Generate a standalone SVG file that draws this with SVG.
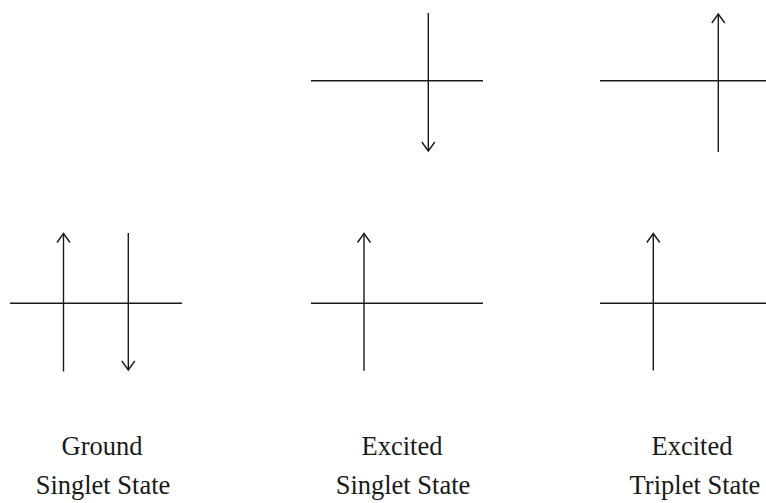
<svg xmlns="http://www.w3.org/2000/svg" width="766" height="503" viewBox="0 0 766 503">
<defs>
<style>
.ln{stroke:#1a1a1a;stroke-width:1.4;fill:none}
.lbl{font-family:"Liberation Serif","Times New Roman",serif;font-size:26.5px;fill:#1a1a1a;text-anchor:middle}
</style>
<marker id="ah" markerUnits="userSpaceOnUse" markerWidth="20" markerHeight="20" viewBox="-10 -10 20 20" refX="0" refY="0" orient="auto">
<path d="M-9,-6.5 L0,0 L-9,6.5" fill="none" stroke="#1a1a1a" stroke-width="1.4"/>
</marker>
</defs>
<g id="ground">
<line class="ln" x1="10" y1="303.3" x2="182" y2="303.3"/>
<line class="ln" x1="63.5" y1="371.5" x2="63.5" y2="233.5" marker-end="url(#ah)"/>
<line class="ln" x1="128.3" y1="233" x2="128.3" y2="370" marker-end="url(#ah)"/>
</g>
<g id="excited-singlet-upper">
<line class="ln" x1="311" y1="80.7" x2="483" y2="80.7"/>
<line class="ln" x1="428.3" y1="13" x2="428.3" y2="151" marker-end="url(#ah)"/>
</g>
<g id="excited-singlet-lower">
<line class="ln" x1="311" y1="303.3" x2="483" y2="303.3"/>
<line class="ln" x1="364" y1="370.7" x2="364" y2="233.5" marker-end="url(#ah)"/>
</g>
<g id="excited-triplet-upper">
<line class="ln" x1="600" y1="80.7" x2="766" y2="80.7"/>
<line class="ln" x1="718.3" y1="152" x2="718.3" y2="14" marker-end="url(#ah)"/>
</g>
<g id="excited-triplet-lower">
<line class="ln" x1="600" y1="303.3" x2="766" y2="303.3"/>
<line class="ln" x1="653.3" y1="370.5" x2="653.3" y2="233.5" marker-end="url(#ah)"/>
</g>
<g id="labels">
<text class="lbl" x="102" y="455">Ground</text>
<text class="lbl" x="103" y="494">Singlet State</text>
<text class="lbl" x="402" y="455">Excited</text>
<text class="lbl" x="403" y="494">Singlet State</text>
<text class="lbl" x="692" y="455">Excited</text>
<text class="lbl" x="695" y="494">Triplet State</text>
</g>
</svg>
